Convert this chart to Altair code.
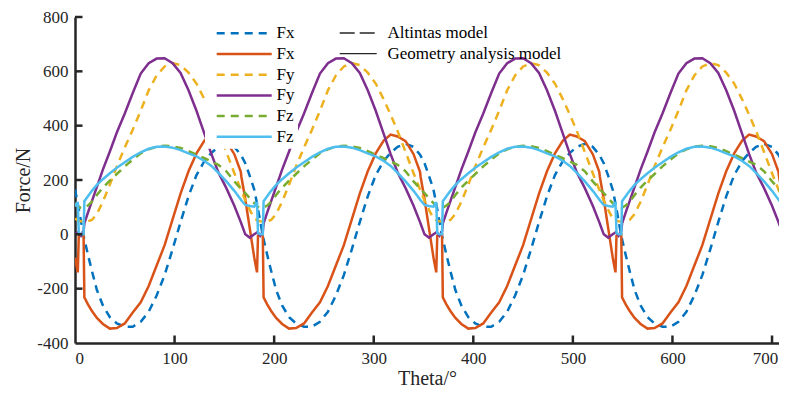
import altair as alt
import pandas as pd

# ---------------- data ----------------
THETA = [
    0, 2, 2.8, 3.8, 6, 8.6, 9.4, 13, 17, 22, 28, 35, 42, 50, 58, 66, 74, 82, 90, 98, 106, 114, 122, 130, 137, 144, 152, 160, 166.5, 167, 171, 175.5,
    180, 182, 182.8, 183.8, 186, 188.6, 189.4, 193, 197, 202, 208, 215, 222, 230, 238, 246, 254, 262, 270, 278, 286, 294, 302, 310, 317, 324, 332, 340, 346.5, 347, 351, 355.5,
    360, 362, 362.8, 363.8, 366, 368.6, 369.4, 373, 377, 382, 388, 395, 402, 410, 418, 426, 434, 442, 450, 458, 466, 474, 482, 490, 497, 504, 512, 520, 526.5, 527, 531, 535.5,
    540, 542, 542.8, 543.8, 546, 548.6, 549.4, 553, 557, 562, 568, 575, 582, 590, 598, 606, 614, 622, 630, 638, 646, 654, 662, 670, 677, 684, 692, 700, 706.5, 707, 711, 715.5,
    720,
]

FX_ALTINTAS = [
    165, 128, 112, 92, 48, -5, -18, -75, -135, -205, -262, -305, -328, -340, -340, -322, -285, -225, -150, -55, 45, 140, 218, 270, 300, 322, 333, 322, 293, 290, 262, 215,
    165, 128, 112, 92, 48, -5, -18, -75, -135, -205, -262, -305, -328, -340, -340, -322, -285, -225, -150, -55, 45, 140, 218, 270, 300, 322, 333, 322, 293, 290, 262, 215,
    165, 128, 112, 92, 48, -5, -18, -75, -135, -205, -262, -305, -328, -340, -340, -322, -285, -225, -150, -55, 45, 140, 218, 270, 300, 322, 333, 322, 293, 290, 262, 215,
    165, 128, 112, 92, 48, -5, -18, -75, -135, -205, -262, -305, -328, -340, -340, -322, -285, -225, -150, -55, 45, 140, 218, 270, 300, 322, 333, 322, 293, 290, 262, 215,
    165,
]

FX_GEOMETRY = [
    -85, -125, -140, -5, 0, 0, -232, -258, -282, -308, -330, -347, -345, -328, -288, -250, -190, -115, -40, 55, 150, 232, 298, 345, 367, 360, 343, 295, 230, 214, 130, 22,
    -85, -125, -140, -5, 0, 0, -232, -258, -282, -308, -330, -347, -345, -328, -288, -250, -190, -115, -40, 55, 150, 232, 298, 345, 367, 360, 343, 295, 230, 214, 130, 22,
    -85, -125, -140, -5, 0, 0, -232, -258, -282, -308, -330, -347, -345, -328, -288, -250, -190, -115, -40, 55, 150, 232, 298, 345, 367, 360, 343, 295, 230, 214, 130, 22,
    -85, -125, -140, -5, 0, 0, -232, -258, -282, -308, -330, -347, -345, -328, -288, -250, -190, -115, -40, 55, 150, 232, 298, 345, 367, 360, 343, 295, 230, 214, 130, 22,
    -85,
]

FY_ALTINTAS = [
    58, 54, 52, 50, 48, 47, 47, 48, 53, 75, 120, 183, 250, 320, 385, 455, 530, 585, 618, 630, 623, 595, 555, 497, 440, 380, 303, 225, 165, 160, 125, 90,
    58, 54, 52, 50, 48, 47, 47, 48, 53, 75, 120, 183, 250, 320, 385, 455, 530, 585, 618, 630, 623, 595, 555, 497, 440, 380, 303, 225, 165, 160, 125, 90,
    58, 54, 52, 50, 48, 47, 47, 48, 53, 75, 120, 183, 250, 320, 385, 455, 530, 585, 618, 630, 623, 595, 555, 497, 440, 380, 303, 225, 165, 160, 125, 90,
    58, 54, 52, 50, 48, 47, 47, 48, 53, 75, 120, 183, 250, 320, 385, 455, 530, 585, 618, 630, 623, 595, 555, 497, 440, 380, 303, 225, 165, 160, 125, 90,
    58,
]

FY_GEOMETRY = [
    0, 5, 7, 6, -5, 10, 40, 80, 122, 175, 238, 305, 375, 445, 520, 592, 630, 647, 648, 630, 594, 530, 455, 370, 295, 228, 170, 105, 45, 40, 0, -12,
    0, 5, 7, 6, -5, 10, 40, 80, 122, 175, 238, 305, 375, 445, 520, 592, 630, 647, 648, 630, 594, 530, 455, 370, 295, 228, 170, 105, 45, 40, 0, -12,
    0, 5, 7, 6, -5, 10, 40, 80, 122, 175, 238, 305, 375, 445, 520, 592, 630, 647, 648, 630, 594, 530, 455, 370, 295, 228, 170, 105, 45, 40, 0, -12,
    0, 5, 7, 6, -5, 10, 40, 80, 122, 175, 238, 305, 375, 445, 520, 592, 630, 647, 648, 630, 594, 530, 455, 370, 295, 228, 170, 105, 45, 40, 0, -12,
    0,
]

FZ_ALTINTAS = [
    115, 108, 104, 101, 98, 97, 98, 106, 120, 145, 172, 198, 222, 250, 275, 298, 313, 323, 326, 324, 318, 306, 293, 280, 268, 256, 232, 195, 168, 166, 152, 133,
    115, 108, 104, 101, 98, 97, 98, 106, 120, 145, 172, 198, 222, 250, 275, 298, 313, 323, 326, 324, 318, 306, 293, 280, 268, 256, 232, 195, 168, 166, 152, 133,
    115, 108, 104, 101, 98, 97, 98, 106, 120, 145, 172, 198, 222, 250, 275, 298, 313, 323, 326, 324, 318, 306, 293, 280, 268, 256, 232, 195, 168, 166, 152, 133,
    115, 108, 104, 101, 98, 97, 98, 106, 120, 145, 172, 198, 222, 250, 275, 298, 313, 323, 326, 324, 318, 306, 293, 280, 268, 256, 232, 195, 168, 166, 152, 133,
    115,
]

FZ_GEOMETRY = [
    102, 115, 115, 5, 0, 0, 122, 140, 160, 182, 203, 225, 245, 265, 285, 302, 315, 322, 323, 319, 310, 298, 287, 270, 252, 226, 195, 160, 128, 125, 108, 104,
    102, 115, 115, 5, 0, 0, 122, 140, 160, 182, 203, 225, 245, 265, 285, 302, 315, 322, 323, 319, 310, 298, 287, 270, 252, 226, 195, 160, 128, 125, 108, 104,
    102, 115, 115, 5, 0, 0, 122, 140, 160, 182, 203, 225, 245, 265, 285, 302, 315, 322, 323, 319, 310, 298, 287, 270, 252, 226, 195, 160, 128, 125, 108, 104,
    102, 115, 115, 5, 0, 0, 122, 140, 160, 182, 203, 225, 245, 265, 285, 302, 315, 322, 323, 319, 310, 298, 287, 270, 252, 226, 195, 160, 128, 125, 108, 104,
    102,
]

SERIES_KEYS = ["Fx_A", "Fx_G", "Fy_A", "Fy_G", "Fz_A", "Fz_G"]
SERIES_VALUES = [FX_ALTINTAS, FX_GEOMETRY, FY_ALTINTAS, FY_GEOMETRY, FZ_ALTINTAS, FZ_GEOMETRY]
LEGEND_LABELS = ["Fx", "Fx", "Fy", "Fy", "Fz", "Fz"]
MODEL_LABELS = ["Altintas model", "Geometry analysis model"]
X_LABELS = [0, 100, 200, 300, 400, 500, 600, 700]
Y_LABELS = [-400, -200, 0, 200, 400, 600, 800]
X_TICKS = [100, 200, 300, 400, 500, 600, 700]
Y_TICKS = [-200, 0, 200, 400, 600, 800]

# ---------------- styles ----------------
COLORS = ["#0072BD", "#D95319", "#EDB120", "#7E2F8E", "#77AC30", "#4DBEEE"]
DASHED = [True, False, True, False, True, False]
DASH = [8, 6]
FONT = "Liberation Serif"
AXIS_COLOR = "#262626"
W, H = 704, 326
TOP = 9

rows = []
for key, vals in zip(SERIES_KEYS, SERIES_VALUES):
    for t, v in zip(THETA, vals):
        rows.append({"theta": t, "force": v, "series": key})
df = pd.DataFrame(rows)
ticks_x = pd.DataFrame({"theta": X_TICKS})
ticks_y = pd.DataFrame({"force": Y_TICKS})
one = pd.DataFrame({"k": [0]})

xscale = alt.Scale(domain=[0, 707], nice=False, zero=False)
yscale = alt.Scale(domain=[-400, 800], nice=False, zero=False)

LABEL_EXPR = "datum.value < 0 ? '-' + format(-datum.value, 'd') : format(datum.value, 'd')"
x_axis = alt.Axis(values=X_LABELS, labelExpr=LABEL_EXPR, title="Theta/°", ticks=False, tickSize=0,
                  labelPadding=7, titlePadding=2, grid=False,
                  labelOffset={"condition": {"test": "datum.value == 700", "value": -7}, "value": 0})
y_axis = alt.Axis(values=Y_LABELS, labelExpr=LABEL_EXPR, title="Force/N", ticks=False, tickSize=0,
                  labelPadding=7, titlePadding=3, grid=False)

X_ENC = alt.X("theta:Q", scale=xscale, axis=x_axis)
Y_ENC = alt.Y("force:Q", scale=yscale, axis=y_axis)

layers = []
for i, key in enumerate(SERIES_KEYS):
    mk = dict(color=COLORS[i], strokeWidth=2.5, clip=True)
    if DASHED[i]:
        mk["strokeDash"] = DASH
    layers.append(
        alt.Chart(df).transform_filter(alt.datum.series == key).mark_line(**mk).encode(x=X_ENC, y=Y_ENC)
    )

# inward tick marks
layers.append(
    alt.Chart(ticks_x).mark_rule(color=AXIS_COLOR, strokeWidth=2.5).encode(
        x=X_ENC, y=alt.value(H), y2=alt.value(H - 7.5)
    )
)
layers.append(
    alt.Chart(ticks_y).mark_rule(color=AXIS_COLOR, strokeWidth=2.5).encode(
        y=Y_ENC, x=alt.value(0), x2=alt.value(7.5)
    )
)

# legend 1 (series), white box  (positions relative to plot top-left)
dy = 14.7 - (8 + TOP)
layers.append(
    alt.Chart(one).mark_rect(fill="white").encode(
        x=alt.value(130), x2=alt.value(223), y=alt.value(5 + dy), y2=alt.value(134 + dy)
    )
)
for i, lab in enumerate(LEGEND_LABELS):
    ry = 18.6 + i * 20.7 + dy
    mk = dict(color=COLORS[i], strokeWidth=2.5)
    if DASHED[i]:
        mk["strokeDash"] = DASH
    layers.append(
        alt.Chart(one).mark_rule(**mk).encode(x=alt.value(141.7), x2=alt.value(196.7), y=alt.value(ry))
    )
    layers.append(
        alt.Chart(one).mark_text(align="left", baseline="middle", font=FONT, fontSize=17, color="black").encode(
            x=alt.value(201.5), y=alt.value(ry), text=alt.value(lab)
        )
    )

# legend 2 (models)
for j, lab in enumerate(MODEL_LABELS):
    ry = 18.3 + j * 20.6 + dy
    mk = dict(color=AXIS_COLOR, strokeWidth=1.3)
    if j == 0:
        mk["strokeDash"] = [15, 5]
    layers.append(
        alt.Chart(one).mark_rule(**mk).encode(x=alt.value(264.7), x2=alt.value(301.7), y=alt.value(ry))
    )
    layers.append(
        alt.Chart(one).mark_text(align="left", baseline="middle", font=FONT, fontSize=17, color="black").encode(
            x=alt.value(312.5), y=alt.value(ry), text=alt.value(lab)
        )
    )

chart = alt.layer(*layers).properties(
    width=W, height=H,
    autosize=alt.AutoSizeParams(type="none"),
    padding={"left": 67, "top": TOP, "right": 0, "bottom": 46},
).configure_view(stroke=None).configure_axis(
    domainColor=AXIS_COLOR, domainWidth=2.5,
    labelFont=FONT, labelFontSize=17, labelColor=AXIS_COLOR,
    titleFont=FONT, titleFontSize=20, titleColor=AXIS_COLOR, titleFontWeight="normal",
)

chart.save("out.html", embed_options={"renderer": "svg", "actions": False})
